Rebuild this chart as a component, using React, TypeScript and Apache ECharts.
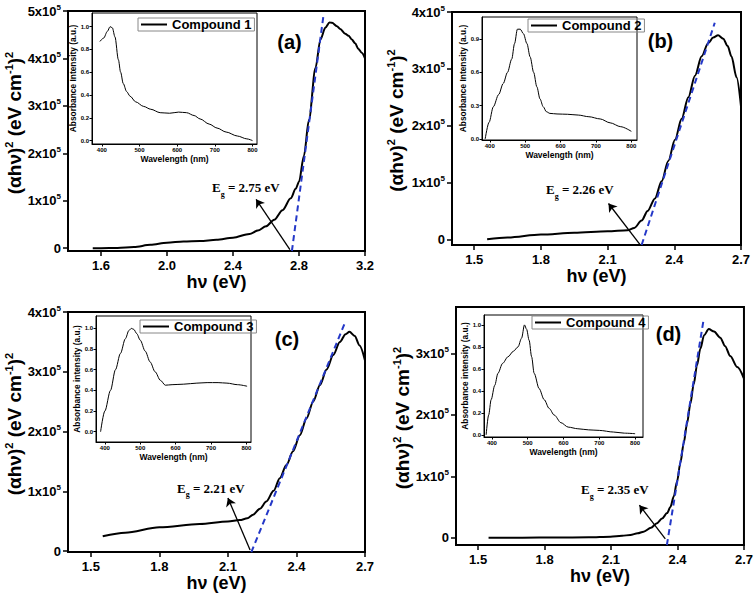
import React, { useEffect, useRef } from "react";
import * as echarts from "echarts";

const SANS = "'Liberation Sans', Arial, Helvetica, sans-serif";
const SERIF = "'Liberation Serif', 'Times New Roman', serif";

// ---------- Panel (a) : Compound 1 ----------
const aEnergy = [1.55, 1.6, 1.7, 1.8, 1.9, 2.0, 2.1, 2.2, 2.3, 2.4, 2.5, 2.55, 2.6, 2.65, 2.7, 2.75, 2.78, 2.8, 2.83, 2.86, 2.9, 2.93, 2.96, 2.985, 3.0, 3.03, 3.05, 3.08, 3.1, 3.12, 3.14, 3.16, 3.18, 3.2];
const aSignal = [0, 0, 500, 2500, 7000, 11500, 14000, 15000, 17500, 22000, 30000, 37000, 46000, 60000, 80000, 105000, 125000, 140000, 195000, 270000, 380000, 440000, 465000, 476000, 475000, 468000, 462000, 452000, 448000, 440000, 432000, 420000, 412000, 400000];
const aFitEnergy = [2.757, 2.95];
const aFitSignal = [-6000, 495000];
const aArrowEnergy = [2.745, 2.54];
const aArrowSignal = [-3000, 103000];
const aWave = [395, 405, 415, 422, 428, 435, 444, 450, 457, 466, 475, 490, 511, 530, 555, 580, 604, 625, 645, 661, 685, 706, 730, 760, 785, 800];
const aAbs = [0.87, 0.9, 0.96, 1.0, 0.99, 0.91, 0.71, 0.6, 0.5, 0.43, 0.39, 0.34, 0.3, 0.275, 0.245, 0.24, 0.25, 0.245, 0.22, 0.19, 0.145, 0.11, 0.075, 0.04, 0.015, 0.0];

// ---------- Panel (b) : Compound 2 ----------
const bEnergy = [1.558, 1.65, 1.8, 1.95, 2.1, 2.19, 2.22, 2.253, 2.28, 2.313, 2.343, 2.373, 2.403, 2.433, 2.463, 2.493, 2.523, 2.552, 2.575, 2.597, 2.62, 2.64, 2.657, 2.68, 2.7];
const bSignal = [0, 3000, 8300, 11500, 14000, 16000, 20000, 33000, 50000, 72000, 102000, 138000, 175000, 212000, 250000, 288000, 322000, 345000, 355000, 359000, 353000, 340000, 322000, 285000, 234000];
const bFitEnergy = [2.253, 2.582];
const bFitSignal = [-10000, 381000];
const bArrowEnergy = [2.245, 2.104];
const bArrowSignal = [-9000, 63000];
const bWave = [387, 398, 410, 425, 438, 450, 462, 470, 478, 486, 495, 505, 514, 524, 533, 542, 551, 560, 570, 590, 620, 650, 680, 712, 740, 770, 800];
const bAbs = [0.0, 0.15, 0.29, 0.4, 0.5, 0.6, 0.72, 0.86, 0.99, 0.99, 0.95, 0.86, 0.74, 0.6, 0.47, 0.36, 0.29, 0.245, 0.23, 0.225, 0.222, 0.215, 0.2, 0.18, 0.145, 0.11, 0.068];

// ---------- Panel (c) : Compound 3 ----------
const cEnergy = [1.552, 1.65, 1.8, 1.976, 2.1, 2.152, 2.185, 2.21, 2.24, 2.268, 2.3, 2.327, 2.356, 2.385, 2.415, 2.444, 2.473, 2.503, 2.532, 2.561, 2.59, 2.615, 2.632, 2.655, 2.676, 2.7];
const cSignal = [25000, 31000, 40000, 45500, 49500, 52000, 55000, 61000, 71000, 83000, 101000, 122000, 144000, 167000, 194000, 222000, 250000, 278000, 304000, 328000, 350000, 363000, 367000, 360000, 344000, 319000];
const cFitEnergy = [2.2024, 2.61];
const cFitSignal = [-1500, 380000];
const cArrowEnergy = [2.197, 2.1];
const cArrowSignal = [2000, 89000];
const cWave = [388, 400, 416, 430, 444, 458, 468, 475, 482, 490, 500, 514, 528, 542, 557, 571, 590, 623, 660, 689, 720, 745, 775, 802];
const cAbs = [0.0, 0.2, 0.4, 0.6, 0.757, 0.9, 0.98, 1.0, 0.99, 0.95, 0.886, 0.78, 0.675, 0.58, 0.497, 0.45, 0.455, 0.46, 0.47, 0.475, 0.475, 0.47, 0.455, 0.44];

// ---------- Panel (d) : Compound 4 ----------
const dEnergy = [1.547, 1.7, 1.85, 2.0, 2.097, 2.15, 2.187, 2.22, 2.247, 2.28, 2.307, 2.33, 2.353, 2.368, 2.383, 2.398, 2.413, 2.428, 2.443, 2.458, 2.473, 2.488, 2.503, 2.52, 2.541, 2.565, 2.593, 2.615, 2.638, 2.67, 2.699];
const dSignal = [0, 0, 200, 600, 1600, 3000, 4400, 7000, 9800, 16000, 23500, 31000, 40000, 50000, 67000, 92000, 122000, 154000, 186000, 218000, 250000, 281000, 308000, 330000, 340000, 336000, 326000, 312000, 296000, 278000, 260000];
const dFitEnergy = [2.352, 2.519];
const dFitSignal = [-12000, 358000];
const dArrowEnergy = [2.345, 2.228];
const dArrowSignal = [-2000, 53000];
const dWave = [384, 391, 398, 408, 417, 430, 445, 460, 473, 483, 491, 497, 504, 511, 518, 532, 546, 560, 574, 593, 613, 640, 670, 700, 740, 770, 800];
const dAbs = [0.0, 0.18, 0.32, 0.45, 0.56, 0.65, 0.71, 0.76, 0.8, 0.88, 1.0, 0.96, 0.86, 0.71, 0.56, 0.42, 0.32, 0.24, 0.18, 0.11, 0.07, 0.055, 0.045, 0.04, 0.025, 0.015, 0.01];

// ---------- tick labels ----------
const aEnergyTicks = [1.6, 2.0, 2.4, 2.8, 3.2];
const bcdEnergyTicks = [1.5, 1.8, 2.1, 2.4, 2.7];
const aSignalTicks = [0, 100000, 200000, 300000, 400000, 500000];
const bcSignalTicks = [0, 100000, 200000, 300000, 400000];
const dSignalTicks = [0, 100000, 200000, 300000];
const waveTicks = [400, 500, 600, 700, 800];
const absTicks = [0, 0.2, 0.4, 0.6, 0.8, 1.0];
const bAbsTicks = [0, 0.3, 0.6, 0.9];

const gapLabels = ["2.75", "2.26", "2.21", "2.35"];
const compoundNames = ["Compound 1", "Compound 2", "Compound 3", "Compound 4"];
const panelLetters = ["(a)", "(b)", "(c)", "(d)"];

const zip = (xs: number[], ys: number[]) => xs.map((x, i) => [x, ys[i]]);

const panels = [
  {
    energy: aEnergy, signal: aSignal, fitX: aFitEnergy, fitY: aFitSignal, arrX: aArrowEnergy, arrY: aArrowSignal,
    wave: aWave, abs: aAbs, xTicks: aEnergyTicks, yTicks: aSignalTicks, iyTicks: absTicks,
    xMin: 1.4, xMax: 3.2, yMin: -6000, yMax: 500000,
    ixMin: 374, ixMax: 812, iyMin: -0.03, iyMax: 1.12,
    main: { left: 68, top: 11, width: 297, height: 240 },
    inset: { left: 92, top: 13, width: 165, height: 131 },
    yNameGap: 40, xNameGap: 20, insetYName: "Absorbance Intensity (a.u.)",
    legend: { left: 138, top: 18 }, letter: [289.5, 41.5], eg: [212, 181],
  },
  {
    energy: bEnergy, signal: bSignal, fitX: bFitEnergy, fitY: bFitSignal, arrX: bArrowEnergy, arrY: bArrowSignal,
    wave: bWave, abs: bAbs, xTicks: bcdEnergyTicks, yTicks: bcSignalTicks, iyTicks: bAbsTicks,
    xMin: 1.4, xMax: 2.7, yMin: -10000, yMax: 400000,
    ixMin: 378, ixMax: 816, iyMin: -0.01, iyMax: 1.1,
    main: { left: 452, top: 12, width: 289, height: 233 },
    inset: { left: 482, top: 17, width: 155, height: 123 },
    yNameGap: 45, xNameGap: 17, insetYName: "Absorbance Intensity (a.u.)",
    legend: { left: 528, top: 19 }, letter: [660.5, 41], eg: [546, 183],
  },
  {
    energy: cEnergy, signal: cSignal, fitX: cFitEnergy, fitY: cFitSignal, arrX: cArrowEnergy, arrY: cArrowSignal,
    wave: cWave, abs: cAbs, xTicks: bcdEnergyTicks, yTicks: bcSignalTicks, iyTicks: absTicks,
    xMin: 1.4, xMax: 2.7, yMin: -1500, yMax: 400000,
    ixMin: 375, ixMax: 813, iyMin: -0.1, iyMax: 1.12,
    main: { left: 68, top: 312, width: 297, height: 242 },
    inset: { left: 96, top: 316, width: 155, height: 126 },
    yNameGap: 41, xNameGap: 18, insetYName: "Absorbance intensity (a.u.)",
    legend: { left: 140, top: 320 }, letter: [287, 339], eg: [177, 481.5],
  },
  {
    energy: dEnergy, signal: dSignal, fitX: dFitEnergy, fitY: dFitSignal, arrX: dArrowEnergy, arrY: dArrowSignal,
    wave: dWave, abs: dAbs, xTicks: bcdEnergyTicks, yTicks: dSignalTicks, iyTicks: absTicks,
    xMin: 1.4, xMax: 2.7, yMin: -12000, yMax: 376000,
    ixMin: 378, ixMax: 822, iyMin: -0.02, iyMax: 1.09,
    main: { left: 456, top: 307, width: 289, height: 238 },
    inset: { left: 484, top: 315, width: 159, height: 122 },
    yNameGap: 40, xNameGap: 16, insetYName: "Absorbance intensity (a.u.)",
    legend: { left: 532, top: 316 }, letter: [668.5, 334], eg: [581, 483],
  },
];

function buildOption() {
  const grid: any[] = [];
  const xAxis: any[] = [];
  const yAxis: any[] = [];
  const series: any[] = [];
  const legend: any[] = [];
  const graphic: any[] = [];

  panels.forEach((p, i) => {
    const gm = grid.length;
    grid.push({ ...p.main, show: true, borderColor: "#000", borderWidth: 2, backgroundColor: "transparent" });
    const gi = grid.length;
    grid.push({ ...p.inset, show: true, borderColor: "#000", borderWidth: 1, backgroundColor: "#fff" });

    xAxis.push({
      type: "value", gridIndex: gm, min: p.xMin, max: p.xMax,
      name: "hν (eV)", nameLocation: "middle", nameGap: p.xNameGap,
      nameTextStyle: { fontSize: 18, fontWeight: "bold", color: "#000", fontFamily: SANS },
      axisLine: { show: true, onZero: false, lineStyle: { color: "#000", width: 2 } },
      axisTick: { show: true, length: 5, customValues: p.xTicks, lineStyle: { color: "#000", width: 1.5 } },
      axisLabel: { customValues: p.xTicks, formatter: (v: number) => v.toFixed(1), fontSize: 13, fontWeight: "bold", color: "#000", fontFamily: SANS, margin: 8 },
      splitLine: { show: false },
    });
    yAxis.push({
      type: "value", gridIndex: gm, min: p.yMin, max: p.yMax,
      name: "{m|(αhν)}{s|2}{m| (eV cm}{s|-1}{m|)}{s|2}", nameLocation: "middle", nameGap: p.yNameGap, nameRotate: 90,
      nameTextStyle: {
        color: "#000",
        padding: [0, 0, 0, 16],
        rich: {
          m: { fontSize: 19, fontWeight: "bold", color: "#000", fontFamily: SANS, lineHeight: 22 },
          s: { fontSize: 11, fontWeight: "bold", color: "#000", fontFamily: SANS, verticalAlign: "top", lineHeight: 12 },
        },
      },
      axisLine: { show: true, onZero: false, lineStyle: { color: "#000", width: 2 } },
      axisTick: { show: true, length: 5, customValues: p.yTicks, lineStyle: { color: "#000", width: 1.5 } },
      axisLabel: {
        customValues: p.yTicks, margin: 7,
        formatter: (v: number) => (v === 0 ? "{m|0}" : `{m|${Math.round(v / 100000)}x10}{s|5}`),
        rich: {
          m: { fontSize: 13, fontWeight: "bold", color: "#000", fontFamily: SANS, lineHeight: 16 },
          s: { fontSize: 8, fontWeight: "bold", color: "#000", fontFamily: SANS, verticalAlign: "top", lineHeight: 9 },
        },
      },
      splitLine: { show: false },
    });

    xAxis.push({
      type: "value", gridIndex: gi, min: p.ixMin, max: p.ixMax,
      name: "Wavelength (nm)", nameLocation: "middle", nameGap: 10,
      nameTextStyle: { fontSize: 8.5, fontWeight: "bold", color: "#000", fontFamily: SANS },
      axisLine: { show: true, onZero: false, lineStyle: { color: "#000", width: 1 } },
      axisTick: { show: true, length: 2.5, customValues: waveTicks, lineStyle: { color: "#000", width: 1 } },
      axisLabel: { customValues: waveTicks, fontSize: 6, fontWeight: "bold", color: "#000", fontFamily: SANS, margin: 3 },
      splitLine: { show: false },
    });
    yAxis.push({
      type: "value", gridIndex: gi, min: p.iyMin, max: p.iyMax,
      name: p.insetYName, nameLocation: "middle", nameGap: 10, nameRotate: 90,
      nameTextStyle: { fontSize: 8.4, fontWeight: "bold", color: "#000", fontFamily: SANS },
      axisLine: { show: true, onZero: false, lineStyle: { color: "#000", width: 1 } },
      axisTick: { show: true, length: 2.5, customValues: p.iyTicks, lineStyle: { color: "#000", width: 1 } },
      axisLabel: { customValues: p.iyTicks, formatter: (v: number) => v.toFixed(1), fontSize: 6, fontWeight: "bold", color: "#000", fontFamily: SANS, margin: 3 },
      splitLine: { show: false },
    });

    series.push({
      type: "line", name: compoundNames[i] + " Tauc", xAxisIndex: gm, yAxisIndex: gm,
      data: zip(p.energy, p.signal), symbol: "none", showSymbol: false,
      smooth: 0.3, smoothMonotone: "x",
      lineStyle: { color: "#000", width: 2 }, itemStyle: { color: "#000" },
      markLine: {
        silent: true, symbol: ["none", "arrow"], symbolSize: 8,
        label: { show: false },
        lineStyle: { color: "#000", width: 1.3, type: "solid" },
        data: [[{ coord: [p.arrX[0], p.arrY[0]] }, { coord: [p.arrX[1], p.arrY[1]] }]],
      },
    });
    series.push({
      type: "line", name: compoundNames[i] + " fit", xAxisIndex: gm, yAxisIndex: gm,
      data: zip(p.fitX, p.fitY), symbol: "none", showSymbol: false,
      lineStyle: { color: "#2438c8", width: 2, type: [6, 4] }, itemStyle: { color: "#2438c8" },
    });
    series.push({
      type: "line", name: compoundNames[i], xAxisIndex: gi, yAxisIndex: gi,
      data: zip(p.wave, p.abs), symbol: "none", showSymbol: false,
      smooth: 0.3, smoothMonotone: "x",
      lineStyle: { color: "#000", width: 1 }, itemStyle: { color: "#000" },
    });

    legend.push({
      data: [compoundNames[i]], left: p.legend.left, top: p.legend.top, orient: "horizontal",
      selectedMode: false, borderColor: "#888", borderWidth: 1, padding: [0, 3, 0, 3],
      icon: "rect", itemWidth: 26, itemHeight: 2,
      itemStyle: { color: "#000" },
      textStyle: { fontSize: 13, fontWeight: "bold", color: "#000", fontFamily: SANS },
    });

    graphic.push({
      type: "text", x: p.letter[0], y: p.letter[1], silent: true,
      style: { text: panelLetters[i], fontSize: 20, fontWeight: "bold", fontFamily: SANS, fill: "#000", align: "center", verticalAlign: "middle" },
    });
    graphic.push({
      type: "text", x: p.eg[0], y: p.eg[1], silent: true,
      style: {
        text: `{e|E}{g|g}{e| = ${gapLabels[i]} eV}`,
        align: "left", verticalAlign: "top",
        rich: {
          e: { fontSize: 13, fontWeight: "bold", fontFamily: SERIF, fill: "#000", lineHeight: 13, verticalAlign: "top" },
          g: { fontSize: 8, fontWeight: "bold", fontFamily: SERIF, fill: "#000", lineHeight: 17, verticalAlign: "bottom" },
        },
      },
    });
  });

  return {
    animation: false,
    backgroundColor: "#fff",
    textStyle: { fontFamily: SANS },
    grid, xAxis, yAxis, series, legend, graphic,
  };
}

export default function App() {
  const ref = useRef<HTMLDivElement>(null);
  useEffect(() => {
    const chart = echarts.init(ref.current!, null, { renderer: "svg" });
    chart.setOption(buildOption() as any);
    return () => chart.dispose();
  }, []);
  return (
    <div
      ref={ref}
      style={{ position: "fixed", left: 0, top: 0, width: 756, height: 593, background: "#fff" }}
    />
  );
}
